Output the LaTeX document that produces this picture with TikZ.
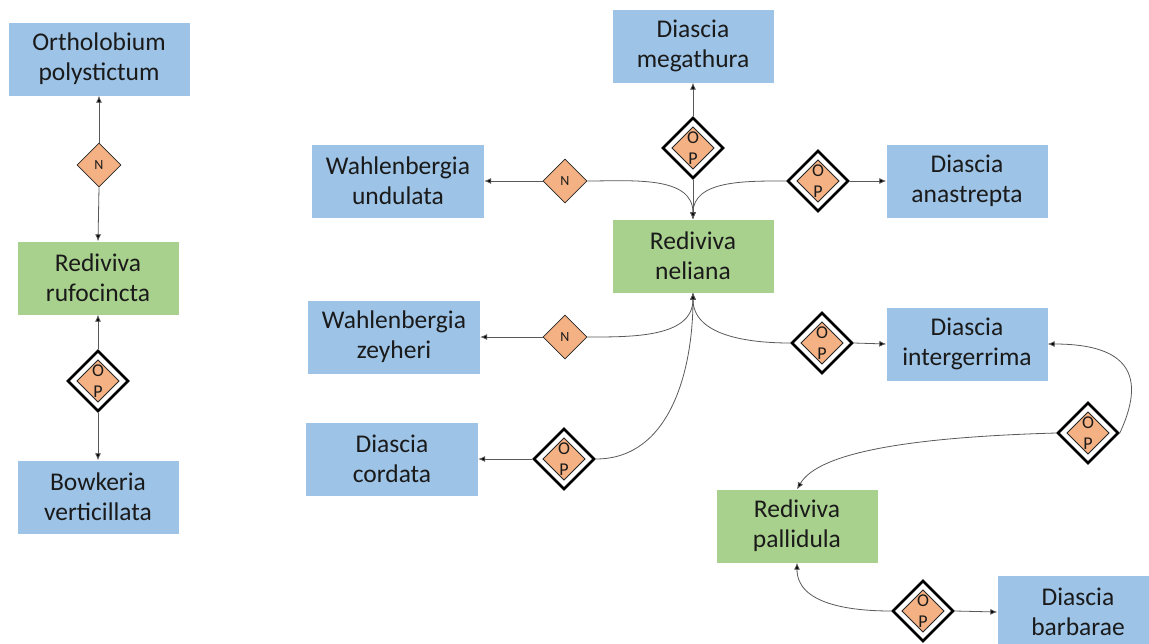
\documentclass[tikz,border=0pt]{standalone}
\usepackage{fontspec}
\setmainfont{Carlito}
\usetikzlibrary{shapes.geometric,arrows.meta}
\definecolor{boxblue}{HTML}{9DC3E6}
\definecolor{boxgreen}{HTML}{A9D18E}
\definecolor{dorange}{HTML}{F4B183}
\definecolor{txt}{HTML}{1A1A1A}
\begin{document}
\begin{tikzpicture}[x=1pt, y=1pt,
  every node/.style={text=txt},
  plant/.style={rectangle, fill=boxblue, minimum width=161pt, minimum height=73pt, inner sep=0pt, align=center, font=\fontsize{25.5}{30}\selectfont},
  bee/.style={plant, fill=boxgreen},
  ndia/.style={diamond, aspect=1, inner sep=0pt, minimum width=44pt, minimum height=44pt, draw=black!85, line width=0.8pt, fill=dorange, font=\fontsize{14}{15}\selectfont},
  opdia/.style={diamond, aspect=1, inner sep=0pt, minimum width=61pt, minimum height=61pt, draw=black, line width=2.6pt, fill=white, align=center, font=\fontsize{18}{21}\selectfont,
    path picture={\draw[line width=0.8pt, draw=black!85, fill=dorange] ([yshift=21pt]path picture bounding box.center) -- ++(21pt,-21pt) -- ++(-21pt,-21pt) -- ++(-21pt,21pt) -- cycle;}},
  conn/.style={draw=black!65, line width=0.8pt, -{Latex[length=7pt,width=6pt,fill=black]}}
]
\useasboundingbox (0,0) rectangle (1149,-643);

% left column
\node[plant, minimum width=181pt] (orth) at (99,-59) {Ortholobium\\polystictum};
\node[ndia] (n1) at (99,-165) {N};
\node[bee] (rufo) at (98,-278) {Rediviva\\rufocincta};
\node[opdia] (op1) at (98,-381) {O\\P};
\node[plant] (bowk) at (98,-497) {Bowkeria\\verticillata};

\draw[conn] (n1.north) -- (orth.south);
\draw[conn] (n1.south) -- (rufo.north);
\draw[conn] (op1.north) -- (rufo.south);
\draw[conn] (op1.south) -- (bowk.north);

% centre
\node[plant] (mega) at (693,-46) {Diascia\\megathura};
\node[opdia] (op2) at (693,-148) {O\\P};
\node[plant, minimum width=172pt] (wund) at (398,-181) {Wahlenbergia\\undulata};
\node[ndia] (n2) at (565,-181) {N};
\node[opdia] (op3) at (818,-181) {O\\P};
\node[plant] (anas) at (967,-181) {Diascia\\anastrepta};
\node[bee] (neli) at (693,-256) {Rediviva\\neliana};
\node[plant, minimum width=172pt] (wzey) at (394,-337) {Wahlenbergia\\zeyheri};
\node[ndia] (n3) at (565,-337) {N};
\node[opdia] (op4) at (822,-343) {O\\P};
\node[plant] (inte) at (967,-344) {Diascia\\intergerrima};
\node[plant, minimum width=172pt] (cord) at (392,-459) {Diascia\\cordata};
\node[opdia] (op5) at (564,-459) {O\\P};
\node[opdia] (op6) at (1088,-433) {O\\P};
\node[bee] (pall) at (797,-526) {Rediviva\\pallidula};
\node[opdia] (op7) at (923,-611) {O\\P};
\node[plant] (barb) at (1078,-612) {Diascia\\barbarae};

\draw[conn] (op2.north) -- (mega.south);
\draw[conn] (op2.south) -- (neli.north);
\draw[conn] (n2.west) -- (wund.east);
\draw[conn] (n2.east) to[out=0,in=90] (neli.north);
\draw[conn] (op3.west) to[out=180,in=90] (neli.north);
\draw[conn] (op3.east) -- (anas.west);
\draw[conn] (n3.west) -- (wzey.east);
\draw[conn] (n3.east) to[out=0,in=-90] (neli.south);
\draw[conn] (op5.west) -- (cord.east);
\draw[conn] (op5.east) to[out=0,in=-90] (neli.south);
\draw[conn] (op4.west) to[out=180,in=-90] (neli.south);
\draw[conn] (op4.east) -- (inte.west);
\draw[conn] (op6.east) to[out=65,in=0,looseness=1.6] (inte.east);
\draw[conn] (op6.west) .. controls +(-140,-4) and +(22,38) .. (pall.north);
\draw[conn] (op7.west) to[out=180,in=-90] (pall.south);
\draw[conn] (op7.east) -- (barb.west);
\end{tikzpicture}
\end{document}
